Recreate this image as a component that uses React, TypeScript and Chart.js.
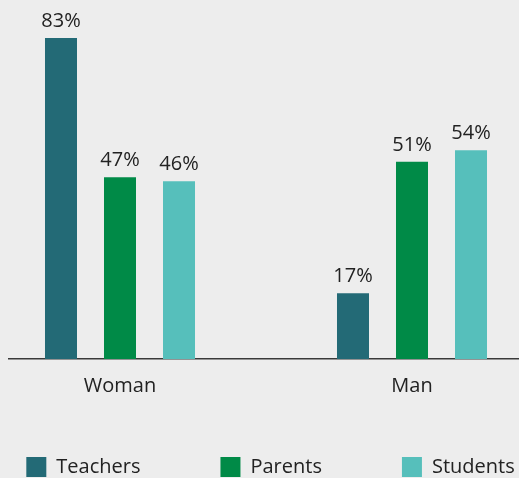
import React, { useEffect, useRef } from 'react';
import { Chart, registerables } from 'chart.js';

Chart.register(...registerables);

const categories = ['Woman', 'Man'];
const seriesNames = ['Teachers', 'Parents', 'Students'];
const teachersValues = [83, 17];
const parentsValues = [47, 51];
const studentsValues = [46, 54];
const seriesColors = ['#236a76', '#008a47', '#56bfbb'];
const yMax = 90;

const FONT = "'Open Sans', 'Noto Sans', sans-serif";
const TEXT = '#222222';

const valueLabels = {
  id: 'valueLabels',
  afterDatasetsDraw(chart: any) {
    const ctx = chart.ctx;
    ctx.save();
    ctx.font = `20px ${FONT}`;
    ctx.fillStyle = TEXT;
    ctx.textAlign = 'center';
    ctx.textBaseline = 'alphabetic';
    chart.data.datasets.forEach((ds: any, i: number) => {
      const meta = chart.getDatasetMeta(i);
      meta.data.forEach((el: any, j: number) => {
        ctx.fillText(`${ds.data[j]}%`, el.x, el.y - 11);
      });
    });
    ctx.restore();
  },
};

export default function App() {
  const ref = useRef<HTMLCanvasElement | null>(null);

  useEffect(() => {
    document.documentElement.style.overflow = 'hidden';
    document.body.style.background = '#ededed';
    document.body.style.margin = '8px 0 0 8px';
    document.body.style.overflow = 'hidden';
    const canvas = ref.current;
    if (!canvas) return;
    const seriesValues = [teachersValues, parentsValues, studentsValues];
    const chart = new Chart(canvas, {
      type: 'bar',
      data: {
        labels: categories,
        datasets: seriesNames.map((name, i) => ({
          label: name,
          data: seriesValues[i],
          backgroundColor: seriesColors[i],
          borderWidth: 0,
          categoryPercentage: 0.6062,
          barPercentage: 0.5424,
          yAxisID: 'y',
        })),
      },
      options: {
        responsive: false,
        animation: false,
        layout: { padding: { top: 3 } },
        plugins: {
          tooltip: { enabled: false },
          legend: {
            position: 'bottom',
            labels: {
              boxWidth: 20,
              boxHeight: 20,
              padding: 80,
              color: TEXT,
              font: { family: FONT, size: 20 },
            },
          },
        },
        scales: {
          x: {
            grid: { display: false },
            border: { display: true, color: '#3a3a3a', width: 1.5 },
            ticks: { color: TEXT, font: { family: FONT, size: 20 }, mirror: true, padding: -39.5 },
            afterFit: (s: any) => {
              s.height = 18;
            },
          },
          y: {
            min: 0,
            max: yMax,
            grid: { display: false },
            border: { display: false },
            ticks: { display: false },
            afterFit: (s: any) => {
              s.width = 36;
            },
          },
          y2: {
            type: 'linear',
            position: 'right',
            grid: { display: false },
            border: { display: false },
            ticks: { display: false },
            afterFit: (s: any) => {
              s.width = 45;
            },
          },
        },
      },
      plugins: [valueLabels],
    } as any);
    return () => chart.destroy();
  }, []);

  return (
    <div style={{ position: 'relative', width: 511, height: 470, overflow: 'hidden' }}>
      <canvas
        ref={ref}
        width={665}
        height={479}
        style={{ position: 'absolute', left: -70, top: 0, display: 'block' }}
      />
    </div>
  );
}
